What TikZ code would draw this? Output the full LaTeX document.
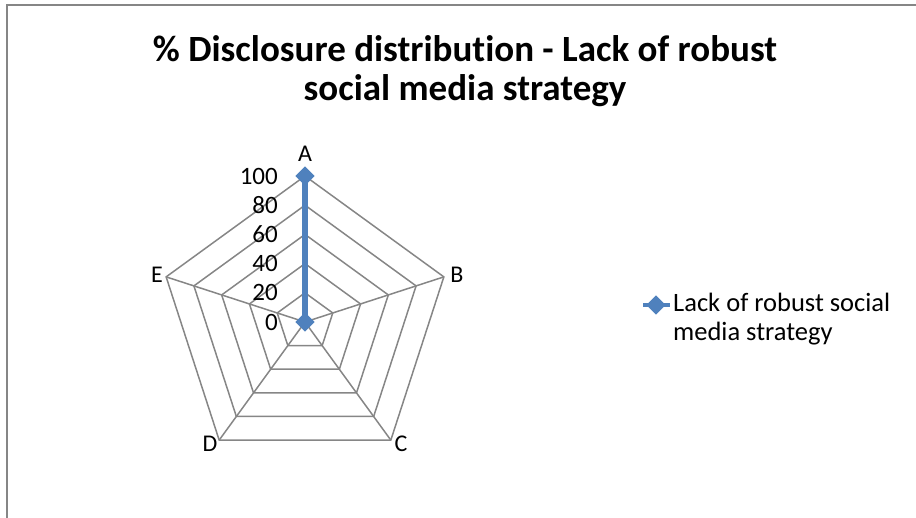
\documentclass[tikz,border=0pt]{standalone}
\usepackage{fontspec}
\setmainfont{Carlito}[Ligatures=NoCommon]
\usepackage{xcolor}
\usetikzlibrary{positioning}
\definecolor{gridgray}{RGB}{134,134,134}
\definecolor{seriesblue}{RGB}{79,129,189}

\begin{document}
\begin{tikzpicture}[x=1pt,y=1pt,font=\fontsize{24}{29}\selectfont,
  grid/.style={draw=gridgray,line width=1.5pt},
  series/.style={draw=seriesblue,line width=6pt},
  marker/.style={fill=seriesblue,inner sep=0pt,minimum size=13.5pt,rotate=45}]
\useasboundingbox (0,0) rectangle (916,517);
\clip (0,0) rectangle (916,517);
\draw[gridgray,line width=2pt] (6.5,-10) rectangle (930,512);
% title
\node[align=center,font=\bfseries\fontsize{37}{39}\selectfont] (title) at (465,446)
  {\% Disclosure distribution - Lack of robust\\social media strategy};
% axes
\coordinate (O) at (305,195);
\coordinate (A) at ([shift={(90:146)}]O);
\coordinate (B) at ([shift={(18:146)}]O);
\coordinate (C) at ([shift={(-54:146)}]O);
\coordinate (D) at ([shift={(-126:146)}]O);
\coordinate (E) at ([shift={(162:146)}]O);
\foreach \r in {29.2,58.4,87.6,116.8,146}
  \draw[grid] ([shift={(90:\r)}]O) -- ([shift={(18:\r)}]O) -- ([shift={(-54:\r)}]O)
    -- ([shift={(-126:\r)}]O) -- ([shift={(162:\r)}]O) -- cycle;
\foreach \v in {A,B,C,D,E}
  \draw[grid] (O) -- (\v);
\node (lA) at (305,363) {A};
\node (lB) at (457,242) {B};
\node (lC) at (401,73) {C};
\node (lD) at (210,73) {D};
\node (lE) at (157,242) {E};
% scale
\foreach \n [count=\i from 0] in {0,20,40,60,80,100}
  \node[anchor=east,inner sep=0pt,font=\fontsize{25}{29}\selectfont] (t\n) at (278,195+29.2*\i) {\n};
% data
\node[marker] (mA) at (A) {};
\node[marker] (mO) at (O) {};
\draw[series] (mA.center) -- (mO.center);
% legend
\coordinate (lgL) at (643,212);
\coordinate (lgR) at (670,212);
\draw[series,line width=4pt] (lgL) -- (lgR);
\node[marker] (lgM) at (656,212) {};
\node[anchor=west,align=left,inner sep=0pt,font=\fontsize{26.5}{29}\selectfont] (lgText) at (673,197.5)
  {Lack of robust social\\media strategy};
\end{tikzpicture}
\end{document}
